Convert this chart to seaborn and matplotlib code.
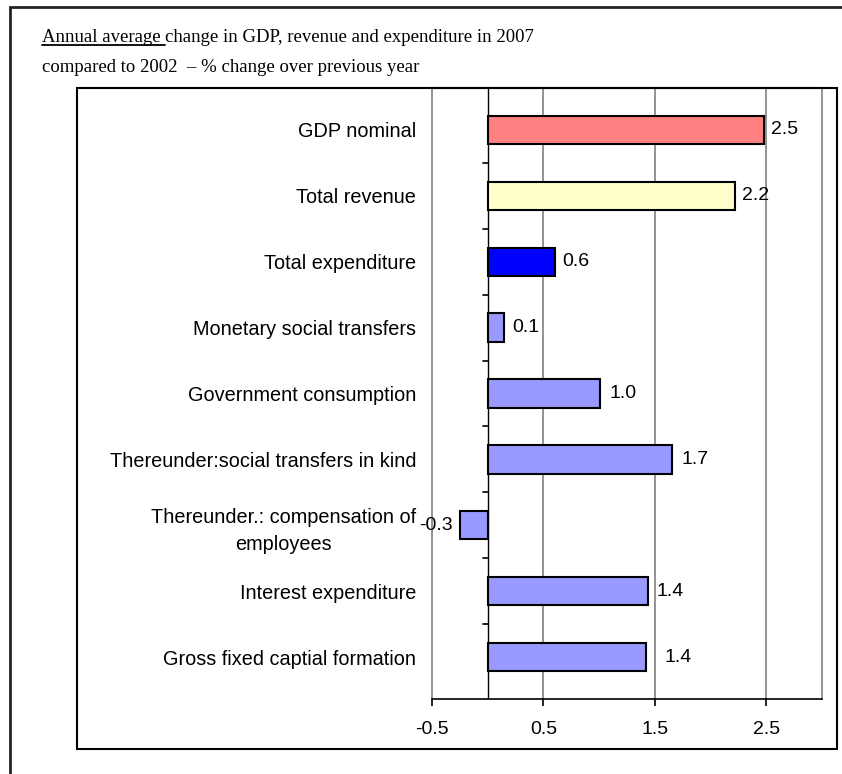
import matplotlib
matplotlib.use("Agg")
import matplotlib.pyplot as plt
import seaborn as sns
import pandas as pd
from matplotlib.patches import Rectangle
from matplotlib.lines import Line2D

# ---------------- data ----------------
categories = [
    "GDP nominal",
    "Total revenue",
    "Total expenditure",
    "Monetary social transfers",
    "Government consumption",
    "Thereunder:social transfers in kind",
    "Thereunder.: compensation of\nemployees",
    "Interest expenditure",
    "Gross fixed captial formation",
]
values = [2.48, 2.22, 0.60, 0.15, 1.01, 1.65, -0.25, 1.44, 1.42]
value_labels = ["2.5", "2.2", "0.6", "0.1", "1.0", "1.7", "-0.3", "1.4", "1.4"]
bar_colors = ["#FF8080", "#FFFFCC", "#0000FF"] + ["#9999FF"] * 6
x_ticks = [-0.5, 0.5, 1.5, 2.5]
x_tick_labels = ["-0.5", "0.5", "1.5", "2.5"]
title_underlined = "Annual average "
title_rest = "change in GDP, revenue and expenditure in 2007"
title_line2 = "compared to 2002  \u2013 % change over previous year"

# label offsets in pixels (style only)
label_pad_px = [7, 7, 8, 8, 9, 10, 7, 8, 19]

# ---------------- figure ----------------
W, H = 842, 774
sns.set_theme(style="white")
plt.rcParams["font.family"] = ["Liberation Sans", "DejaVu Sans"]
fig = plt.figure(figsize=(W / 100, H / 100), dpi=100)
fig.patch.set_facecolor("white")

ax_left, ax_right, ax_top, ax_bottom = 432, 822, 88, 699
ax = fig.add_axes([ax_left / W, (H - ax_bottom) / H,
                   (ax_right - ax_left) / W, (ax_bottom - ax_top) / H])

df = pd.DataFrame({"cat": categories, "val": values})
sns.barplot(data=df, x="val", y="cat", hue="cat", palette=bar_colors,
            legend=False, width=0.43, orient="h", edgecolor="black",
            linewidth=1.5, saturation=1, ax=ax, zorder=3)

xmin, xmax = -0.5, 3.0
ax.set_xlim(xmin, xmax)
ax.set_xticks(x_ticks)
ax.set_xticklabels(x_tick_labels)
ax.set_xlabel("")
ax.set_ylabel("")

for xv in x_ticks[1:]:
    ax.axvline(xv, color="#808080", lw=1.2, zorder=0)
ax.axvline(0, color="black", lw=1.0, zorder=1)

for side in ["left", "right"]:
    ax.spines[side].set_color("#808080")
    ax.spines[side].set_linewidth(1.2)
ax.spines["top"].set_color("black")
ax.spines["top"].set_linewidth(1.5)
ax.spines["bottom"].set_color("black")
ax.spines["bottom"].set_linewidth(1.2)

ax.tick_params(axis="x", bottom=True, direction="out", length=5, width=1.2,
               color="black", pad=10.5, labelsize=14, labelcolor="black")
ax.tick_params(axis="y", left=False, length=0, pad=11.5, labelsize=14.3,
               labelcolor="black")
for lbl in ax.get_yticklabels():
    lbl.set_multialignment("center")
    lbl.set_linespacing(1.5)

# small category-boundary tick marks on the zero line
n = len(categories)
dx = (xmax - xmin) * 5 / (ax_right - ax_left)
for i in range(n - 1):
    ax.plot([-dx, 0], [i + 0.5, i + 0.5], color="black", lw=1.2, zorder=2,
            clip_on=False)

# value labels
for i, (v, lab) in enumerate(zip(values, value_labels)):
    off = label_pad_px[i] if v >= 0 else -label_pad_px[i]
    ax.annotate(lab, xy=(v, i), xytext=(off, 0), textcoords="offset pixels",
                ha="left" if v >= 0 else "right", va="center", fontsize=14,
                color="black", zorder=5)

# ---------------- frames ----------------
fig.patches.append(Rectangle((10 / W, -0.1), 1.2, (H - 7) / H + 0.1,
                             transform=fig.transFigure, fill=False,
                             lw=2, ec="#222222", zorder=0))
fig.patches.append(Rectangle((77 / W, (H - 749) / H), 760 / W, (749 - 88) / H,
                             transform=fig.transFigure, fill=False,
                             lw=1.5, ec="black", zorder=0))

# ---------------- title ----------------
serif = ["Liberation Serif", "DejaVu Serif"]
tsize = 13.5
t1 = fig.text(42 / W, 1 - 42 / H, title_underlined, fontfamily=serif,
              fontsize=tsize, va="baseline", ha="left", color="black")
fig.canvas.draw()
r = fig.canvas.get_renderer()
bb = t1.get_window_extent(r)
fig.text(bb.x1 / W, 1 - 42 / H, title_rest, fontfamily=serif,
         fontsize=tsize, va="baseline", ha="left", color="black")
fig.lines.append(Line2D([bb.x0 / W, bb.x1 / W], [1 - 45 / H, 1 - 45 / H],
                        transform=fig.transFigure, color="black", lw=1.3))
fig.text(42 / W, 1 - 72 / H, title_line2, fontfamily=serif,
         fontsize=tsize, va="baseline", ha="left", color="black")

fig.savefig("out.png", dpi=100, facecolor="white")
